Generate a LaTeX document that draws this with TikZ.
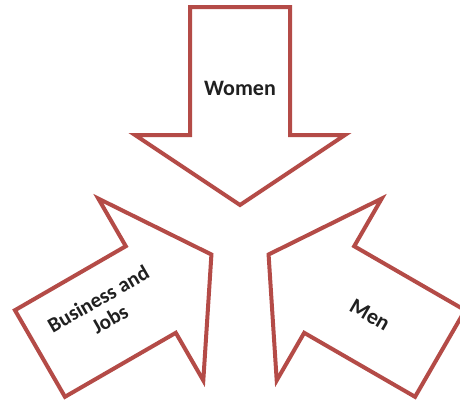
\documentclass[tikz,border=0pt]{standalone}
\usepackage{fontspec}
\setmainfont{Carlito}
\definecolor{arrowred}{RGB}{180,75,71}
\definecolor{txt}{RGB}{32,32,32}
\begin{document}
\begin{tikzpicture}[x=0.75pt,y=-0.75pt,
  bigarrow/.style={draw=arrowred,line width=3pt,fill=white,line join=miter},
  lbl/.style={font=\bfseries\fontsize{16.5}{18}\selectfont,text=txt,align=center,inner sep=0pt}]
\useasboundingbox (0,0) rectangle (460,405);
\coordinate (C) at (240,238);
% down arrow (Women)
\draw[bigarrow] (190,7) -- (290,7) -- (290,135) -- (345,135) -- (240,205) -- (135,135) -- (190,135) -- cycle;
% Business and Jobs arrow
\begin{scope}[rotate around={120:(C)}]
\draw[bigarrow] (190,7) -- (290,7) -- (290,135) -- (345,135) -- (240,205) -- (135,135) -- (190,135) -- cycle;
\end{scope}
% Men arrow
\begin{scope}[rotate around={-120:(C)}]
\draw[bigarrow] (190,7) -- (290,7) -- (290,135) -- (345,135) -- (240,205) -- (135,135) -- (190,135) -- cycle;
\end{scope}
\node[lbl] (women) at (240,88) {Women};
\node[lbl,rotate=30,font=\bfseries\fontsize{15.8}{17.5}\selectfont] (business) at (104,309) {Business and\\Jobs};
\node[lbl,rotate=-30] (men) at (370,315) {Men};
\end{tikzpicture}
\end{document}
